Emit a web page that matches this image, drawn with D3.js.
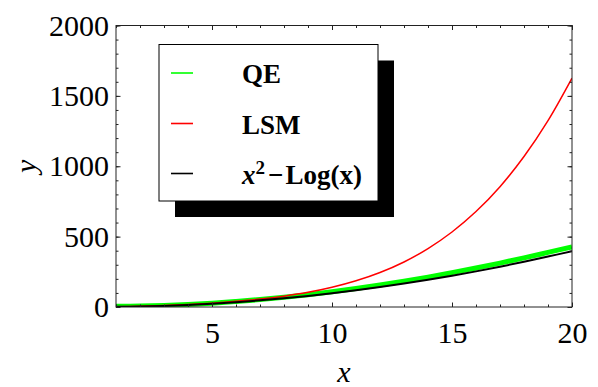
<!DOCTYPE html>
<html>
<head>
<meta charset="utf-8">
<script src="https://cdn.jsdelivr.net/npm/d3@7"></script>
<style>
  body { margin: 0; background: white; }
  svg { display: block; }
</style>
</head>
<body>
<div id="chart"></div>
<script>
// values
const xs = [1, 2, 3, 4, 5, 6, 7, 8, 9, 10, 11, 12, 13, 14, 15, 16, 17, 18, 19, 20];
const qe = [5, 7, 11, 18, 27, 39, 53, 69, 87, 108, 131, 156, 183, 212, 244, 277, 312, 349, 388, 427];
const lsm = [2, 5, 10, 17, 27, 40, 56, 77, 104, 140, 186, 245, 320, 415, 533, 678, 855, 1069, 1324, 1626];
const exact = [1, 3.3, 7.9, 14.6, 23.4, 34.2, 47.1, 61.9, 78.8, 97.7, 118.6, 141.5, 166.4, 193.4, 222.3, 253.2, 286.2, 321.1, 358.1, 397];

const xMajor = [5, 10, 15, 20];
const yMajor = [0, 500, 1000, 1500, 2000];
const xMinor = d3.range(1, 21);
const yMinor = d3.range(0, 2001, 100);

const series = [
  { name: "QE", values: qe, colour: "#00ff00", width: 5 },
  { name: "LSM", values: lsm, colour: "#ff0000", width: 1.5 },
  { name: "exact", values: exact, colour: "#000000", width: 2 }
];

function chart() {
  const width = 598, height = 387;
  const margin = { top: 25.5, right: 26, bottom: 80, left: 116 };
  const w = width - margin.left - margin.right;
  const h = height - margin.top - margin.bottom;
  const font = "'Liberation Serif', 'Times New Roman', serif";

  const svg = d3.select("#chart").append("svg")
    .attr("width", width)
    .attr("height", height);

  const g = svg.append("g")
    .attr("transform", `translate(${margin.left},${margin.top})`);

  const x = d3.scaleLinear().domain([1, 20]).range([0, w]);
  const y = d3.scaleLinear().domain([0, 2000]).range([h, 0]);

  svg.append("defs").append("clipPath").attr("id", "clip")
    .append("rect").attr("width", w).attr("height", h);

  // curves
  const line = d3.line()
    .x((d, i) => x(xs[i]))
    .y(d => y(d))
    .curve(d3.curveCatmullRom);

  const curves = g.append("g").attr("clip-path", "url(#clip)");
  series.forEach(s => {
    curves.append("path")
      .datum(s.values)
      .attr("d", line)
      .attr("fill", "none")
      .attr("stroke", s.colour)
      .attr("stroke-width", s.width);
  });

  // frame ticks, pointing inward on all four sides
  function ticks(axis, transform) {
    const a = g.append("g").attr("transform", transform).call(axis);
    a.select(".domain").remove();
    a.selectAll("line").attr("stroke", "#222").attr("stroke-width", 1);
    a.selectAll("text")
      .attr("fill", "#000")
      .style("font-family", font)
      .style("font-size", "30px");
    return a;
  }

  ticks(d3.axisBottom(x).tickValues(xMinor).tickSize(-2.5).tickFormat(""), `translate(0,${h})`);
  ticks(d3.axisBottom(x).tickValues(xMajor).tickSize(-4.5).tickPadding(15).tickFormat(d3.format("d")), `translate(0,${h})`);
  ticks(d3.axisTop(x).tickValues(xMinor).tickSize(-2.5).tickFormat(""), "translate(0,0)");
  ticks(d3.axisTop(x).tickValues(xMajor).tickSize(-4.5).tickFormat(""), "translate(0,0)");

  ticks(d3.axisLeft(y).tickValues(yMinor).tickSize(-2.5).tickFormat(""), "translate(0,0)");
  ticks(d3.axisLeft(y).tickValues(yMajor).tickSize(-4.5).tickPadding(7).tickFormat(d3.format("d")), "translate(0,0)");
  ticks(d3.axisRight(y).tickValues(yMinor).tickSize(-2.5).tickFormat(""), `translate(${w},0)`);
  ticks(d3.axisRight(y).tickValues(yMajor).tickSize(-4.5).tickFormat(""), `translate(${w},0)`);

  g.append("rect")
    .attr("width", w)
    .attr("height", h)
    .attr("fill", "none")
    .attr("stroke", "#222")
    .attr("stroke-width", 1);

  // axis labels
  svg.append("text")
    .attr("x", margin.left + w / 2)
    .attr("y", 382)
    .attr("text-anchor", "middle")
    .style("font-family", font)
    .style("font-style", "italic")
    .style("font-size", "30px")
    .text("x");

  svg.append("text")
    .attr("transform", `translate(36,${margin.top + h / 2}) rotate(-90)`)
    .attr("text-anchor", "middle")
    .style("font-family", font)
    .style("font-style", "italic")
    .style("font-size", "30px")
    .text("y");

  // legend with drop shadow
  const lx = 159, ly = 44.5, lw = 219, lh = 156.5, off = 16;
  svg.append("rect")
    .attr("x", lx + off).attr("y", ly + off)
    .attr("width", lw).attr("height", lh)
    .attr("fill", "#000");
  svg.append("rect")
    .attr("x", lx).attr("y", ly)
    .attr("width", lw).attr("height", lh)
    .attr("fill", "#fff")
    .attr("stroke", "#000")
    .attr("stroke-width", 1);

  const rows = [73, 123.5, 173.5];
  series.forEach((s, i) => {
    svg.append("line")
      .attr("x1", 171).attr("x2", 193)
      .attr("y1", rows[i]).attr("y2", rows[i])
      .attr("stroke", s.colour)
      .attr("stroke-width", 1.6);
  });

  const label = (i) => svg.append("text")
    .attr("x", 242)
    .attr("y", rows[i] + 10)
    .style("font-family", font)
    .style("font-weight", "bold")
    .style("font-size", "27px");

  label(0).text("QE");
  label(1).text("LSM");
  const t = label(2);
  t.append("tspan").style("font-style", "italic").text("x");
  t.append("tspan").attr("dy", -10).style("font-size", "19px").text("2");
  t.append("tspan").attr("dy", 10).attr("dx", 3).text("\u2212");
  t.append("tspan").attr("dx", 2).text("Log(x)");
}

window.onload = function () {
  chart();
};
</script>
</body>
</html>
